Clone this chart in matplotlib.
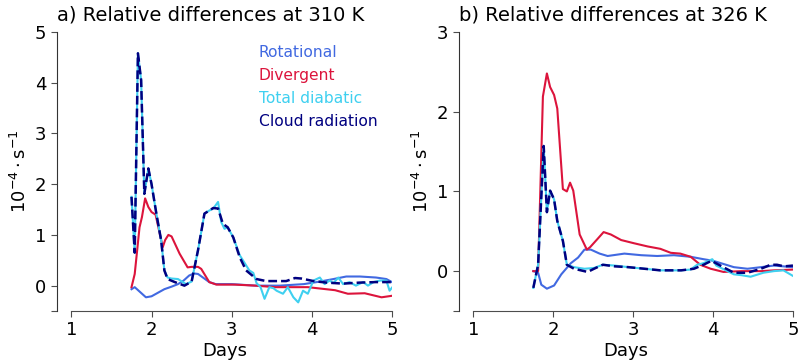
import numpy as np
import matplotlib
matplotlib.use('Agg')
import matplotlib.pyplot as plt

plt.rcParams['font.family'] = ['DejaVu Sans']
plt.rcParams['mathtext.default'] = 'regular'

# ---- data: panel a) 310 K ----
days_rot_310 = [1.75, 1.79, 1.86, 1.93, 2.00, 2.08, 2.16, 2.25, 2.33, 2.40, 2.47, 2.53, 2.58, 2.65,
                2.72, 2.80, 3.00, 3.30, 3.60, 3.90, 4.10, 4.27, 4.43, 4.60, 4.80, 4.93, 5.00]
rot_310 = [-0.07, -0.03, -0.13, -0.23, -0.21, -0.14, -0.07, -0.02, 0.03, 0.10, 0.20, 0.24, 0.23, 0.15,
           0.07, 0.03, 0.03, 0.00, 0.00, 0.03, 0.08, 0.13, 0.18, 0.18, 0.16, 0.13, 0.07]

days_div_310 = [1.75, 1.79, 1.85, 1.88, 1.92, 1.96, 2.00, 2.05, 2.14, 2.17, 2.21, 2.25, 2.35, 2.45,
                2.50, 2.58, 2.62, 2.72, 2.81, 3.04, 3.30, 3.54, 3.95, 4.29, 4.45, 4.66, 4.87, 5.00]
div_310 = [-0.03, 0.23, 1.15, 1.35, 1.72, 1.55, 1.45, 1.40, 0.76, 0.90, 1.00, 0.97, 0.63, 0.36,
           0.37, 0.37, 0.33, 0.07, 0.02, 0.02, 0.00, -0.03, -0.03, -0.09, -0.16, -0.15, -0.23, -0.20]

days_diab_310 = [1.75, 1.79, 1.83, 1.87, 1.91, 1.96, 2.00, 2.06, 2.12, 2.16, 2.20, 2.25, 2.33, 2.38,
                 2.43, 2.50, 2.58, 2.66, 2.72, 2.77, 2.83, 2.87, 2.91, 2.95, 3.02, 3.10, 3.16, 3.22,
                 3.27, 3.31, 3.36, 3.41, 3.47, 3.52, 3.56, 3.64, 3.70, 3.77, 3.83, 3.89, 3.95, 4.02,
                 4.10, 4.16, 4.22, 4.27, 4.33, 4.39, 4.47, 4.55, 4.64, 4.70, 4.77, 4.85, 4.93, 4.97, 5.00]
diab_310 = [1.75, 0.65, 4.58, 4.05, 1.81, 2.31, 2.00, 1.42, 0.89, 0.30, 0.16, 0.14, 0.13, 0.08,
            0.03, 0.08, 0.70, 1.42, 1.48, 1.52, 1.65, 1.25, 1.12, 1.15, 0.95, 0.60, 0.45, 0.30,
            0.25, 0.05, -0.03, -0.26, -0.03, -0.05, -0.10, -0.16, -0.03, -0.23, -0.33, -0.10, -0.16, 0.10,
            0.16, 0.03, 0.10, 0.05, 0.16, 0.03, 0.07, 0.00, 0.07, 0.00, 0.07, 0.10, 0.10, -0.10, -0.04]

days_cld_310 = [1.75, 1.79, 1.83, 1.87, 1.91, 1.96, 2.00, 2.06, 2.12, 2.16, 2.20, 2.29, 2.41, 2.50,
                2.58, 2.66, 2.72, 2.77, 2.83, 2.89, 2.95, 3.02, 3.10, 3.18, 3.31, 3.43, 3.68, 3.79,
                3.87, 4.02, 4.18, 4.39, 4.60, 4.80, 5.00]
cld_310 = [1.75, 0.65, 4.58, 4.05, 1.81, 2.31, 2.00, 1.42, 0.89, 0.30, 0.13, 0.07, 0.00, 0.08,
           0.70, 1.42, 1.48, 1.53, 1.52, 1.22, 1.15, 0.95, 0.56, 0.30, 0.13, 0.09, 0.09, 0.15,
           0.14, 0.09, 0.06, 0.04, 0.06, 0.07, 0.07]

# ---- data: panel b) 326 K ----
days_rot_326 = [1.75, 1.81, 1.85, 1.92, 2.01, 2.10, 2.22, 2.31, 2.39, 2.47, 2.58, 2.68, 2.89, 3.10,
                3.30, 3.51, 3.72, 3.88, 4.00, 4.13, 4.26, 4.43, 4.60, 4.76, 5.00]
rot_326 = [0.00, -0.02, -0.17, -0.22, -0.18, -0.04, 0.10, 0.17, 0.27, 0.27, 0.22, 0.19, 0.22, 0.20,
           0.19, 0.20, 0.18, 0.15, 0.13, 0.09, 0.05, 0.03, 0.05, 0.07, 0.05]

days_div_326 = [1.75, 1.81, 1.87, 1.92, 1.96, 2.01, 2.05, 2.12, 2.17, 2.21, 2.25, 2.33, 2.42, 2.46,
                2.55, 2.63, 2.72, 2.85, 3.01, 3.18, 3.34, 3.47, 3.59, 3.72, 3.84, 3.97, 4.13, 4.35,
                4.60, 4.76, 5.00]
div_326 = [0.00, 0.00, 2.19, 2.48, 2.31, 2.21, 2.04, 1.03, 1.00, 1.11, 1.01, 0.46, 0.27, 0.30,
           0.40, 0.49, 0.46, 0.39, 0.35, 0.31, 0.28, 0.23, 0.22, 0.18, 0.08, 0.03, -0.01, 0.00,
           0.00, 0.01, 0.02]

days_diab_326 = [1.75, 1.81, 1.88, 1.92, 1.96, 2.01, 2.05, 2.12, 2.17, 2.26, 2.39, 2.51, 2.62, 2.77,
                 2.94, 3.14, 3.34, 3.60, 3.72, 3.80, 3.88, 3.99, 4.04, 4.26, 4.35, 4.47, 4.63, 4.76,
                 4.88, 5.00]
diab_326 = [-0.21, 0.08, 1.57, 0.74, 1.01, 0.90, 0.63, 0.38, 0.08, 0.05, 0.03, 0.04, 0.08, 0.07,
            0.05, 0.03, 0.01, 0.01, 0.02, 0.08, 0.10, 0.15, 0.07, -0.04, -0.05, -0.07, -0.02, 0.00,
            0.01, -0.06]

days_cld_326 = [1.75, 1.81, 1.88, 1.92, 1.96, 2.01, 2.05, 2.12, 2.17, 2.26, 2.43, 2.51, 2.62, 2.77,
                2.94, 3.14, 3.34, 3.60, 3.76, 3.88, 3.98, 4.09, 4.26, 4.43, 4.60, 4.72, 4.80, 4.89,
                5.00]
cld_326 = [-0.21, 0.08, 1.57, 0.74, 1.01, 0.90, 0.63, 0.38, 0.08, 0.03, -0.01, 0.03, 0.08, 0.06,
           0.05, 0.03, 0.01, 0.01, 0.03, 0.08, 0.13, 0.07, -0.02, -0.02, 0.03, 0.08, 0.08, 0.06,
           0.07]

labels = ['Rotational', 'Divergent', 'Total diabatic', 'Cloud radiation']
colors = ['#4169E1', '#DC143C', '#3FD0F0', '#000080']

panels = [
    ('a) Relative differences at 310 K', 5,
     [(days_rot_310, rot_310), (days_div_310, div_310), (days_diab_310, diab_310), (days_cld_310, cld_310)]),
    ('b) Relative differences at 326 K', 3,
     [(days_rot_326, rot_326), (days_div_326, div_326), (days_diab_326, diab_326), (days_cld_326, cld_326)]),
]

fig = plt.figure(figsize=(7.98, 3.64), dpi=100)
positions = [[0.0714, 0.1456, 0.4198, 0.7665], [0.5752, 0.1456, 0.4185, 0.7665]]

for i, (title, ymax, series) in enumerate(panels):
    ax = fig.add_axes(positions[i])
    for j, (d, v) in enumerate(series):
        if j == 3:
            ax.plot(d, v, color=colors[j], lw=1.8, ls=(0, (3.5, 1.6)), label=labels[j])
        else:
            ax.plot(d, v, color=colors[j], lw=1.5, label=labels[j])
    ax.set_xlim(0.82, 5)
    ax.set_ylim(-0.5, ymax)
    ax.set_xticks([1, 2, 3, 4, 5])
    yt = [-0.5] + list(range(0, ymax + 1))
    ax.set_yticks(yt)
    ax.set_yticklabels([''] + [str(t) for t in range(0, ymax + 1)])
    for s in ['top', 'right']:
        ax.spines[s].set_visible(False)
    ax.spines['bottom'].set_bounds(1, 5)
    ax.spines['bottom'].set_color('0.3')
    ax.spines['left'].set_color('0.2')
    ax.tick_params(labelsize=13, length=4, color='0.3')
    ax.set_xlabel('Days', fontsize=13, labelpad=2)
    ax.set_title(title, loc='left', fontsize=14, pad=8)
    ax.set_ylabel(r'$10^{-4}\cdot s^{-1}$', fontsize=13, labelpad=4)
    if i == 0:
        leg = ax.legend(loc='upper left', bbox_to_anchor=(0.602, 0.953), frameon=False,
                        handlelength=0, handletextpad=0, borderpad=0, borderaxespad=0,
                        labelspacing=0.52, fontsize=11.2)
        for txt, c in zip(leg.get_texts(), colors):
            txt.set_color(c)

fig.savefig('out.png', dpi=100)
